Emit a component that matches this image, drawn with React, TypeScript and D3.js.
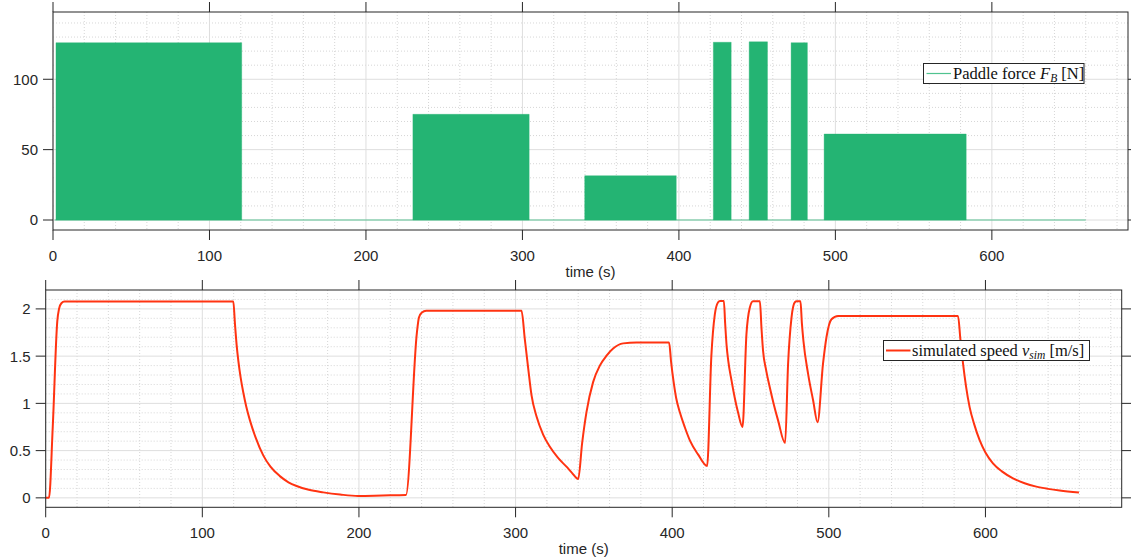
import React from 'react';
import * as d3 from 'd3';

// paddle force bursts (the signal oscillates fast, so each burst reads as a solid block)
const burstStart = [1.9, 230, 339.8, 422, 444.9, 471.7, 492.8];
const burstEnd = [120.6, 304.3, 398.3, 433.4, 456.6, 482.1, 583.6];
const burstPeak = [126, 75.1, 31.5, 126.3, 126.6, 126, 61.1];
const forceSpan = [1, 660];

// simulated speed
const speedTime = [
  0, 2.1, 4.5, 7.4, 8.5, 10, 12, 119.8, 120.8, 121.9, 123, 124.5, 126.1, 128, 130.4, 134, 138.9, 143.5,
  149.5, 155, 160.2, 168, 177.2, 188, 199.5, 215, 230, 237, 238.3, 240, 243, 303.8, 305.9, 308.1, 310.2,
  313.4, 317.6, 321.9, 327, 332.5, 336, 340, 342.5, 345.3, 349.5, 353.8, 358.1, 362.3, 368.7, 377.2, 398, 399.3,
  400.8, 402.5, 405, 408, 411.5, 416.5, 422.3, 425, 427.2, 429.3, 430.5, 433, 433.8, 434.8, 435.8,
  437.9, 439.8, 442.1, 444.9, 447.4, 449.5, 451.6, 456, 457, 458, 460, 462.3, 465, 467.6, 472.1, 474,
  476.2, 478.3, 479.5, 481.9, 482.8, 483.8, 486.8, 490, 492.8, 496.3, 498.5, 501.7, 505.9, 582.5, 584,
  585.7, 587.6, 589.9, 592.8, 596.3, 600, 604.8, 610.5, 617.6, 625, 632.5, 640, 647.4, 659.7,
];
const speedValue = [
  0, 0, 0.75, 1.87, 2.0, 2.06, 2.077, 2.077, 1.85, 1.62, 1.45, 1.27, 1.12, 0.97, 0.82, 0.64, 0.45, 0.33,
  0.23, 0.165, 0.125, 0.085, 0.058, 0.035, 0.02, 0.025, 0.03, 1.75, 1.91, 1.96, 1.98, 1.98, 1.68, 1.365, 1.084,
  0.86, 0.67, 0.54, 0.425, 0.33, 0.265, 0.2, 0.58, 0.91, 1.225, 1.4, 1.505, 1.58, 1.635, 1.645, 1.645, 1.44,
  1.24, 1.06, 0.9, 0.75, 0.6, 0.46, 0.337, 1.5, 1.94, 2.07, 2.084, 2.084, 1.85, 1.6, 1.45,
  1.24, 1.07, 0.9, 0.75, 1.73, 2.01, 2.08, 2.08, 1.8, 1.56, 1.35, 1.17, 0.98, 0.82, 0.58, 1.42,
  1.91, 2.07, 2.08, 2.08, 1.85, 1.66, 1.31, 1.03, 0.8, 1.42, 1.7, 1.89, 1.926, 1.926, 1.68,
  1.42, 1.18, 0.96, 0.78, 0.61, 0.48, 0.365, 0.28, 0.207, 0.155, 0.119, 0.095, 0.077, 0.056,
];

const xMajor = [0, 100, 200, 300, 400, 500, 600];
const forceTicks = [0, 50, 100];
const speedTicks = [0, 0.5, 1, 1.5, 2];

const GREEN = '#24b473';
const RED = '#ff3311';
const AXIS = '#262626';
const FONT = '"Liberation Sans", Arial, Helvetica, sans-serif';
const SERIF = '"Liberation Serif", "DejaVu Serif", serif';

type PanelProps = {
  left: number; right: number; top: number; bottom: number;
  yDomain: [number, number]; yTicks: number[]; yMinor: number[];
  children: (x: d3.ScaleLinear<number, number>, y: d3.ScaleLinear<number, number>) => React.ReactNode;
};

function Panel({ left, right, top, bottom, yDomain, yTicks, yMinor, children }: PanelProps) {
  const x = d3.scaleLinear().domain([0, 687]).range([left, right]);
  const y = d3.scaleLinear().domain(yDomain).range([bottom, top]);
  const xMinor = d3.range(20, 687, 20).filter((v) => v % 100 !== 0);
  const tl = 10;
  return (
    <g>
      {/* minor grid */}
      {xMinor.map((v) => (
        <line key={'xm' + v} x1={x(v)} x2={x(v)} y1={top} y2={bottom} stroke="#cccccc" strokeWidth={0.8} strokeDasharray="1,2" />
      ))}
      {yMinor.map((v) => (
        <line key={'ym' + v} x1={left} x2={right} y1={y(v)} y2={y(v)} stroke="#cccccc" strokeWidth={0.8} strokeDasharray="1,2" />
      ))}
      {/* major grid */}
      {xMajor.map((v) => (
        <line key={'xg' + v} x1={x(v)} x2={x(v)} y1={top} y2={bottom} stroke="#dedede" strokeWidth={1} />
      ))}
      {yTicks.map((v) => (
        <line key={'yg' + v} x1={left} x2={right} y1={y(v)} y2={y(v)} stroke="#dedede" strokeWidth={1} />
      ))}

      <g>{children(x, y)}</g>

      {/* box */}
      <rect x={left} y={top} width={right - left} height={bottom - top} fill="none" stroke={AXIS} strokeWidth={1} />
      {/* outward ticks on all four sides */}
      {xMajor.map((v) => (
        <g key={'xt' + v}>
          <line x1={x(v)} x2={x(v)} y1={bottom} y2={bottom + tl} stroke={AXIS} />
          <line x1={x(v)} x2={x(v)} y1={top} y2={top - tl} stroke={AXIS} />
          <text x={x(v)} y={bottom + 31} textAnchor="middle" fontFamily={FONT} fontSize={15} fill={AXIS}>{v}</text>
        </g>
      ))}
      {yTicks.map((v) => (
        <g key={'yt' + v}>
          <line x1={left - tl} x2={left} y1={y(v)} y2={y(v)} stroke={AXIS} />
          <line x1={right} x2={right + tl} y1={y(v)} y2={y(v)} stroke={AXIS} />
          <text x={left - 15} y={y(v)} dy="0.36em" textAnchor="end" fontFamily={FONT} fontSize={15} fill={AXIS}>{v}</text>
        </g>
      ))}
      <text x={(left + right) / 2} y={bottom + 47} textAnchor="middle" fontFamily={FONT} fontSize={15} fill={AXIS}>time (s)</text>
    </g>
  );
}

export default function App() {
  const burstArea = (x: d3.ScaleLinear<number, number>, y: d3.ScaleLinear<number, number>, i: number) =>
    d3.area<number>()
      .x((d) => x(d))
      .y0(y(0))
      .y1(y(burstPeak[i]))([burstStart[i], burstEnd[i]]);

  const speedLine = (x: d3.ScaleLinear<number, number>, y: d3.ScaleLinear<number, number>) =>
    d3.line<number>()
      .x((d) => x(d))
      .y((d, i) => y(speedValue[i]))
      .curve(d3.curveMonotoneX)(speedTime);

  return (
    <svg width={1131} height={558} style={{ position: 'absolute', left: 0, top: 0, display: 'block', background: '#fff' }}>
      <Panel
        left={53} right={1128} top={12} bottom={230}
        yDomain={[-7.1, 147.8]} yTicks={forceTicks}
        yMinor={d3.range(10, 147, 10).filter((v) => v % 50 !== 0)}
      >
        {(x, y) => (
          <g>
            <line x1={x(forceSpan[0])} x2={x(forceSpan[1])} y1={y(0)} y2={y(0)} stroke={GREEN} strokeOpacity={0.7} strokeWidth={1.2} />
            {burstStart.map((_, i) => (
              <path key={i} d={burstArea(x, y, i) || ''} fill={GREEN} stroke={GREEN} strokeWidth={0.6} strokeOpacity={0.6} />
            ))}
          </g>
        )}
      </Panel>
      {/* legend top */}
      <g>
        <rect x={923.5} y={63.5} width={160.5} height={20} fill="#fff" stroke={AXIS} strokeWidth={1} />
        <line x1={926.5} x2={951} y1={73.5} y2={73.5} stroke={GREEN} strokeOpacity={0.8} strokeWidth={1.2} />
        <text x={953} y={78.5} fontFamily={SERIF} fontSize={16.5} fill="#111">
          Paddle force <tspan fontStyle="italic">F</tspan>
          <tspan fontStyle="italic" fontSize={11.5} dy={3}>B</tspan>
          <tspan dy={-3}> [N]</tspan>
        </text>
      </g>

      <Panel
        left={45.7} right={1121.7} top={290} bottom={507.3}
        yDomain={[-0.1, 2.2]} yTicks={speedTicks}
        yMinor={d3.range(1, 22).map((v) => v / 10).filter((v) => Math.abs(v * 2 - Math.round(v * 2)) > 1e-6)}
      >
        {(x, y) => (
          <path d={speedLine(x, y) || ''} fill="none" stroke={RED} strokeWidth={2} strokeLinejoin="round" />
        )}
      </Panel>
      {/* legend bottom */}
      <g>
        <rect x={883.5} y={340.5} width={206} height={20} fill="#fff" stroke={AXIS} strokeWidth={1} />
        <line x1={886} x2={910.5} y1={350.5} y2={350.5} stroke={RED} strokeWidth={2} />
        <text x={912} y={355.5} fontFamily={SERIF} fontSize={16.5} fill="#111">
          simulated speed <tspan fontStyle="italic">v</tspan>
          <tspan fontStyle="italic" fontSize={11.5} dy={3}>sim</tspan>
          <tspan dy={-3}> [m/s]</tspan>
        </text>
      </g>
    </svg>
  );
}
